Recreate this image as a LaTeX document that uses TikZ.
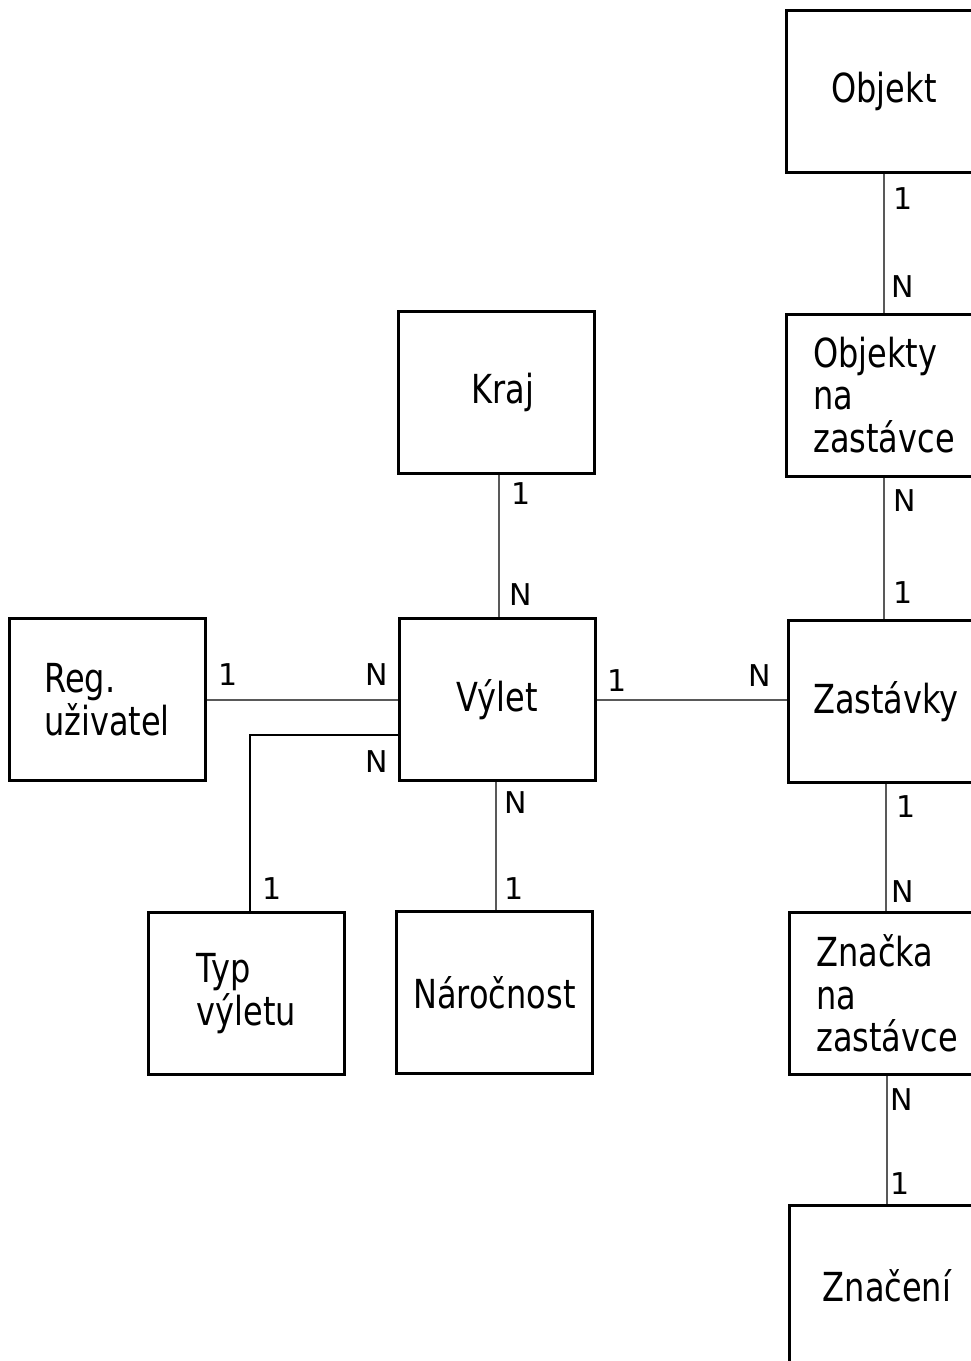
\documentclass[tikz,border=0pt]{standalone}
\usepackage{fontspec}
\setmainfont{DejaVu Sans}[FakeStretch=0.8]
\newfontfamily\cardfont{DejaVu Sans}
\begin{document}
\begin{tikzpicture}[x=1pt,y=-1pt,
    entity/.style={draw,line width=3pt,minimum width=196pt,minimum height=162pt,inner sep=0pt,align=left,font=\fontsize{40}{42.5}\selectfont},
    link/.style={line width=2pt,black!65},
    card/.style={inner sep=0pt,font=\cardfont\fontsize{30}{36}\selectfont}]
  \useasboundingbox (0,0) rectangle (971,1361);
  \fill[white] (0,0) rectangle (971,1361);
  \clip (0,0) rectangle (971,1361);
  % entity boxes
  \node[entity] (objekt)    at (884,91)      {Objekt};
  \node[entity] (objektyz)  at (884,395)     {Objekty\\na\\zastávce};
  \node[entity] (zastavky)  at (886,701.5)   {Zastávky};
  \node[entity] (znacka)    at (887,993.5)   {Značka\\na\\zastávce};
  \node[entity] (znaceni)   at (887,1286)    {Značení};
  \node[entity] (kraj)      at (496,392.5)   {\hspace*{14pt}Kraj};
  \node[entity] (vylet)     at (497,699.5)   {Výlet};
  \node[entity] (reg)       at (107,699.5)   {Reg.\\uživatel};
  \node[entity] (typ)       at (246.5,993.5) {Typ\\výletu};
  \node[entity] (narocnost) at (494.5,992.5) {Náročnost};
  % relations
  \draw[link] (objekt.south) -- (objektyz.north);
  \draw[link] (objektyz.south) -- (objektyz.south |- zastavky.north);
  \draw[link] (zastavky.south) -- (zastavky.south |- znacka.north);
  \draw[link] (znacka.south) -- (znaceni.north);
  \draw[link] ([xshift=3pt]kraj.south) -- ([xshift=3pt]kraj.south |- vylet.north);
  \draw[link] (reg.east) -- (vylet.west);
  \draw[link] (vylet.east) -- (vylet.east -| zastavky.west);
  \draw[link] ([xshift=-1pt]vylet.south) -- ([xshift=-1pt]vylet.south |- narocnost.north);
  \draw[line width=2.3pt] ([yshift=-35.5pt]vylet.west) -| ([xshift=3.5pt]typ.north);
  % cardinalities
  \node[card] (o1)  at (903,199)  {1};
  \node[card] (oN)  at (903,287)  {N};
  \node[card] (zN)  at (905,501)  {N};
  \node[card] (z1)  at (903,593)  {1};
  \node[card] (k1)  at (521,494)  {1};
  \node[card] (kN)  at (521,595)  {N};
  \node[card] (r1)  at (228,675)  {1};
  \node[card] (rN)  at (377,675)  {N};
  \node[card] (v1)  at (617,681)  {1};
  \node[card] (vN)  at (760,676)  {N};
  \node[card] (tN)  at (377,762)  {N};
  \node[card] (t1)  at (272,889)  {1};
  \node[card] (nN)  at (516,803)  {N};
  \node[card] (n1)  at (514,889)  {1};
  \node[card] (s1)  at (906,807)  {1};
  \node[card] (sN)  at (903,892)  {N};
  \node[card] (cN)  at (902,1100) {N};
  \node[card] (c1)  at (900,1184) {1};
\end{tikzpicture}
\end{document}
